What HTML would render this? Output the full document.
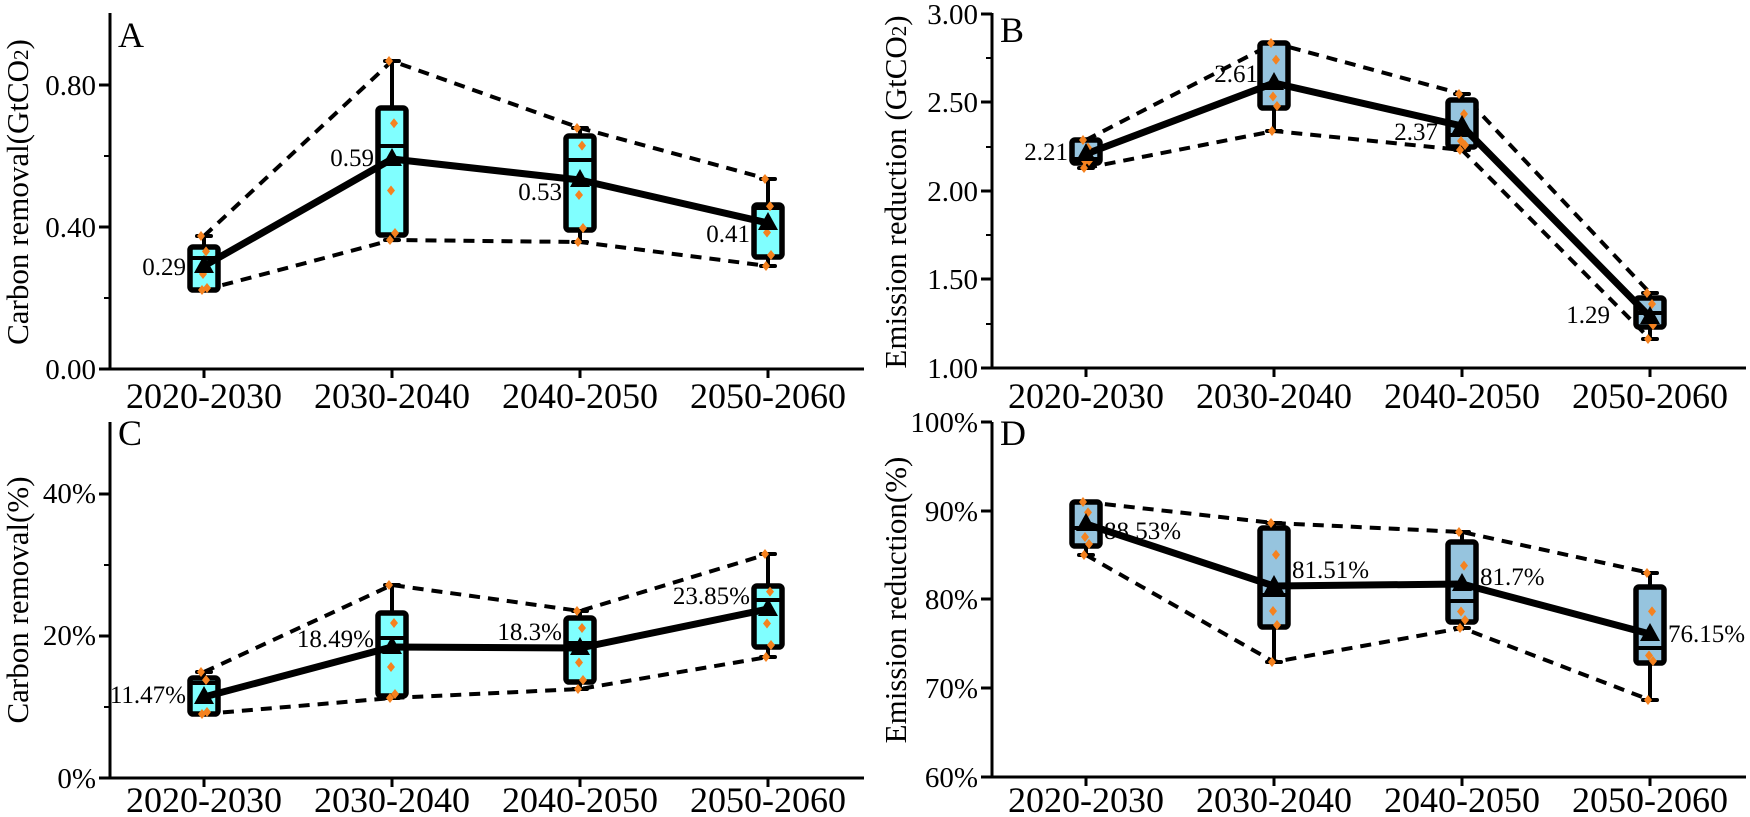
<!DOCTYPE html>
<html><head><meta charset="utf-8"><style>
html,body{margin:0;padding:0;background:#fff}
svg{display:block}
svg text{font-family:"Liberation Serif","Times New Roman",serif;fill:#000}
.tk{font-size:29px}
.ct{font-size:36px}
.dl{font-size:25px}
.pl{font-size:36px}
.at{font-size:31px}
</style></head><body>
<svg id="s" width="1750" height="817" viewBox="0 0 1750 817" xmlns="http://www.w3.org/2000/svg" font-family="Liberation Serif, serif">
<g id="g"></g>
<!-- Panel A texts -->
<text class="pl" x="118" y="47">A</text>
<text class="tk" x="96" y="379" text-anchor="end">0.00</text>
<text class="tk" x="96" y="237" text-anchor="end">0.40</text>
<text class="tk" x="96" y="95" text-anchor="end">0.80</text>
<text class="at" transform="translate(28,192) rotate(-90)" text-anchor="middle">Carbon removal(GtCO<tspan font-size="21">2</tspan>)</text>
<text class="ct" x="204" y="408" text-anchor="middle">2020-2030</text>
<text class="ct" x="392" y="408" text-anchor="middle">2030-2040</text>
<text class="ct" x="580" y="408" text-anchor="middle">2040-2050</text>
<text class="ct" x="768" y="408" text-anchor="middle">2050-2060</text>
<text class="dl" x="186" y="275" text-anchor="end">0.29</text>
<text class="dl" x="374" y="166" text-anchor="end">0.59</text>
<text class="dl" x="562" y="200" text-anchor="end">0.53</text>
<text class="dl" x="750" y="242" text-anchor="end">0.41</text>
<!-- Panel B texts -->
<text class="pl" x="1000" y="42">B</text>
<text class="tk" x="978" y="378" text-anchor="end">1.00</text>
<text class="tk" x="978" y="289" text-anchor="end">1.50</text>
<text class="tk" x="978" y="201" text-anchor="end">2.00</text>
<text class="tk" x="978" y="112" text-anchor="end">2.50</text>
<text class="tk" x="978" y="24" text-anchor="end">3.00</text>
<text class="at" transform="translate(906,192) rotate(-90)" text-anchor="middle">Emission reduction (GtCO<tspan font-size="21">2</tspan>)</text>
<text class="ct" x="1086" y="408" text-anchor="middle">2020-2030</text>
<text class="ct" x="1274" y="408" text-anchor="middle">2030-2040</text>
<text class="ct" x="1462" y="408" text-anchor="middle">2040-2050</text>
<text class="ct" x="1650" y="408" text-anchor="middle">2050-2060</text>
<text class="dl" x="1068" y="160" text-anchor="end">2.21</text>
<text class="dl" x="1258" y="82" text-anchor="end">2.61</text>
<text class="dl" x="1438" y="140" text-anchor="end">2.37</text>
<text class="dl" x="1610" y="323" text-anchor="end">1.29</text>
<!-- Panel C texts -->
<text class="pl" x="118" y="445">C</text>
<text class="tk" x="96" y="788" text-anchor="end">0%</text>
<text class="tk" x="96" y="645" text-anchor="end">20%</text>
<text class="tk" x="96" y="503" text-anchor="end">40%</text>
<text class="at" transform="translate(28,600) rotate(-90)" text-anchor="middle">Carbon removal(%)</text>
<text class="ct" x="204" y="812" text-anchor="middle">2020-2030</text>
<text class="ct" x="392" y="812" text-anchor="middle">2030-2040</text>
<text class="ct" x="580" y="812" text-anchor="middle">2040-2050</text>
<text class="ct" x="768" y="812" text-anchor="middle">2050-2060</text>
<text class="dl" x="186" y="703" text-anchor="end">11.47%</text>
<text class="dl" x="374" y="647" text-anchor="end">18.49%</text>
<text class="dl" x="562" y="640" text-anchor="end">18.3%</text>
<text class="dl" x="750" y="604" text-anchor="end">23.85%</text>
<!-- Panel D texts -->
<text class="pl" x="1000" y="445">D</text>
<text class="tk" x="978" y="787" text-anchor="end">60%</text>
<text class="tk" x="978" y="698" text-anchor="end">70%</text>
<text class="tk" x="978" y="609" text-anchor="end">80%</text>
<text class="tk" x="978" y="521" text-anchor="end">90%</text>
<text class="tk" x="978" y="432" text-anchor="end">100%</text>
<text class="at" transform="translate(906,600) rotate(-90)" text-anchor="middle">Emission reduction(%)</text>
<text class="ct" x="1086" y="812" text-anchor="middle">2020-2030</text>
<text class="ct" x="1274" y="812" text-anchor="middle">2030-2040</text>
<text class="ct" x="1462" y="812" text-anchor="middle">2040-2050</text>
<text class="ct" x="1650" y="812" text-anchor="middle">2050-2060</text>
<text class="dl" x="1104" y="539">88.53%</text>
<text class="dl" x="1292" y="578">81.51%</text>
<text class="dl" x="1480" y="585">81.7%</text>
<text class="dl" x="1668" y="642">76.15%</text>
</svg>
<script>
(function(){
var NS="http://www.w3.org/2000/svg",g=document.getElementById("g");
function el(t,a){var e=document.createElementNS(NS,t);for(var k in a)e.setAttribute(k,a[k]);g.appendChild(e);return e;}
var P=[
 {ax:110,top:13,bot:369,right:864,cats:[204,392,580,768],fill:"#80ffff",
  maj:[369,227,85],min:[298,156],
  b:[[236,247,258,290,290,266],[61,108,146,235,240,159],[128,136,160,230,242,180],[179,205,208,257,266,223]]},
 {ax:992,top:13,bot:368,right:1746,cats:[1086,1274,1462,1650],fill:"#96c4de",
  maj:[368,279,191,102,14],min:[324,235,147,58],
  b:[[140,140,159,163,168,154],[43,43,85,108,131,83],[94,100,135,147,150,126],[293,298,313,327,339,317]]},
 {ax:110,top:422,bot:778,right:864,cats:[204,392,580,768],fill:"#80ffff",
  maj:[778,636,494],min:[707,565],
  b:[[672,678,683,714,714,697],[585,613,638,696,698,647],[611,618,643,682,689,648],[554,586,600,647,657,609]]},
 {ax:992,top:422,bot:777,right:1746,cats:[1086,1274,1462,1650],fill:"#96c4de",
  maj:[777,688,599,511,422],min:[],
  b:[[502,502,528,546,555,524],[523,528,595,627,662,586],[532,542,601,622,628,584],[573,587,648,663,700,634]]}
];
P.forEach(function(p){
 el("line",{x1:p.ax,y1:p.top,x2:p.ax,y2:p.bot+1.5,stroke:"#000","stroke-width":3});
 el("line",{x1:p.ax-1.5,y1:p.bot,x2:p.right,y2:p.bot,stroke:"#000","stroke-width":3});
 p.maj.forEach(function(y){el("line",{x1:p.ax-11,y1:y,x2:p.ax,y2:y,stroke:"#000","stroke-width":3});});
 p.min.forEach(function(y){el("line",{x1:p.ax-6,y1:y,x2:p.ax,y2:y,stroke:"#000","stroke-width":2});});
 p.cats.forEach(function(x){el("line",{x1:x,y1:p.bot,x2:x,y2:p.bot+9,stroke:"#000","stroke-width":3});});
 var up="",lo="",mn="";
 p.b.forEach(function(b,i){var x=p.cats[i];
  up+=(i?"L":"M")+x+","+b[0];lo+=(i?"L":"M")+x+","+b[4];mn+=(i?"L":"M")+x+","+b[5];});
 el("path",{d:up,fill:"none",stroke:"#000","stroke-width":4,"stroke-dasharray":"11,8"});
 el("path",{d:lo,fill:"none",stroke:"#000","stroke-width":4,"stroke-dasharray":"11,8"});
 p.b.forEach(function(b,i){var x=p.cats[i];
  el("line",{x1:x,y1:b[0],x2:x,y2:b[4],stroke:"#000","stroke-width":4});
  el("line",{x1:x-7,y1:b[0],x2:x+7,y2:b[0],stroke:"#000","stroke-width":4,"stroke-linecap":"round"});
  el("line",{x1:x-7,y1:b[4],x2:x+7,y2:b[4],stroke:"#000","stroke-width":4,"stroke-linecap":"round"});
  var h=Math.max(b[3]-b[1],6);
  el("rect",{x:x-14,y:b[1],width:28,height:h,rx:3,fill:p.fill,stroke:"#000","stroke-width":5.5});
  el("line",{x1:x-14,y1:b[2],x2:x+14,y2:b[2],stroke:"#000","stroke-width":4});
 });
 el("path",{d:mn,fill:"none",stroke:"#000","stroke-width":7,"stroke-linejoin":"round"});
 p.b.forEach(function(b,i){var x=p.cats[i];
  var ys=[b[0],b[1]+(b[2]-b[1])*0.4,b[2]+(b[3]-b[2])*0.5,b[3]-2,b[4]];
  var dx=[-3,2,-1,3,-2];
  ys.forEach(function(y,k){var cx=x+dx[k];
   el("path",{d:"M"+cx+","+(y-5)+"L"+(cx+4)+","+y+"L"+cx+","+(y+5)+"L"+(cx-4)+","+y+"Z",fill:"#f5821f"});});
  var m=b[5];
  el("path",{d:"M"+x+","+(m-11)+"L"+(x+10)+","+(m+7)+"L"+(x-10)+","+(m+7)+"Z",fill:"#000"});
 });
});
})();
</script>
</body></html>
